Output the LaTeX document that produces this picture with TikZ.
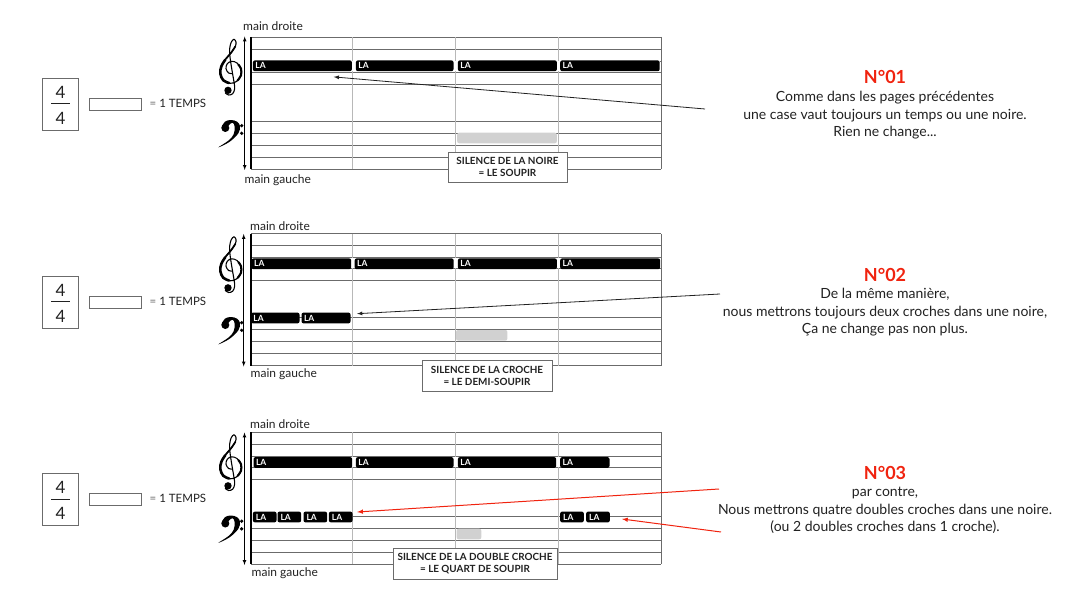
\documentclass[tikz,border=0pt]{standalone}
\usepackage{fontspec}
\setmainfont{Lato}
\definecolor{rule}{gray}{0.42}
\definecolor{barGrey}{gray}{0.72}
\definecolor{restGrey}{gray}{0.82}
\definecolor{numRed}{RGB}{240,35,15}
\definecolor{inkGrey}{gray}{0.13}
\tikzset{
	noteBar/.style={draw=none, fill=black, rounded corners=2pt, minimum height=10.8pt, inner sep=0pt, anchor=west},
	noteLabel/.style={inner sep=0pt, anchor=west, text=white, font=\bfseries\fontsize{8.5}{8.5}\selectfont},
	restBar/.style={draw=none, fill=restGrey, rounded corners=2pt, minimum height=10.6pt, inner sep=0pt},
	silenceBox/.style={draw=rule, fill=white, inner sep=0pt, minimum height=30.5pt, font=\bfseries\fontsize{9.9}{12.2}\selectfont, text=inkGrey, align=center},
	handLabel/.style={inner sep=0pt, anchor=west, text=inkGrey, font=\fontsize{12}{14}\selectfont},
	meterBox/.style={draw=rule, line width=.9pt, minimum width=36pt, minimum height=52pt, inner sep=0pt},
	meterDigit/.style={inner sep=0pt, text=inkGrey, font=\fontsize{17}{17}\selectfont},
	caseBox/.style={draw=rule, minimum width=52pt, minimum height=12pt, inner sep=0pt},
	tempsLabel/.style={inner sep=0pt, anchor=west, font=\fontsize{11.5}{14}\selectfont, text=inkGrey},
	noteText/.style={align=center, inner sep=0pt, text=inkGrey, font=\fontsize{14}{17.6}\selectfont},
	numLabel/.style={inner sep=0pt, text=numRed, font=\bfseries\fontsize{18}{20}\selectfont},
	handArrow/.style={latex-latex, line width=.7pt},
	pointer/.style={-latex, line width=.8pt, inkGrey},
	redPointer/.style={-latex, line width=1pt, numRed}
}
%Staff with its white strip behind the notes
\newcommand{\drawStaff}[2]{
	\begin{scope}[yshift=-#1pt]
		\foreach \ypos in {37,49,61,72,84,121,133,145,157,169}
			\draw[rule, line width=.8pt] (251,\ypos) -- (661,\ypos);
		\foreach \xpos in {352,455,558}
			\draw[barGrey, line width=.7pt] (\xpos,37) -- (\xpos,169);
		\fill[white] (252,61.5) rectangle (#2,71.5);
		\draw[rule, line width=.9pt] (661,37) -- (661,169);
		\draw[line width=1.2pt] (251,37) -- (251,169);
	\end{scope}
}
%Clefs drawn in units of a third of a pixel
\newcommand{\trebleClef}[2]{
	\begin{scope}[shift={(#1,#2)}, x=.3333pt, y=-.3333pt, line cap=round]
		\draw[line width=1.1pt] plot[smooth, tension=.6] coordinates {(5,20) (-7,18) (-15,5) (-11,-10) (2,-17) (18,-12) (30,5) (30,25) (17,43) (-3,49) (-23,40) (-32,20) (-29,-2) (-15,-25) (2,-45) (13,-62) (15,-75) (9,-83) (1,-75) (-4,-55) (-3,-30) (3,10) (9,45) (11,65) (5,80) (-7,84) (-17,78)};
		\draw[line width=2.6pt] plot[smooth, tension=.6] coordinates {(-6,48) (-23,40) (-32,20) (-29,-2) (-17,-22)};
		\draw[line width=2.1pt] plot[smooth, tension=.6] coordinates {(22,-7) (30,5) (30,25) (20,40)};
		\draw[line width=1.7pt] plot[smooth, tension=.6] coordinates {(-15,-25) (2,-45) (13,-62)};
		\fill (-9,70) circle (11);
	\end{scope}
}
\newcommand{\bassClef}[2]{
	\begin{scope}[shift={(#1,#2)}, x=.3333pt, y=-.3333pt]
		\fill plot[smooth cycle, tension=.6] coordinates {(-38,34) (-5,18) (22,-8) (27,-30) (18,-43) (0,-48) (-18,-43) (-28,-25) (-14,-22) (-6,-33) (5,-40) (11,-28) (8,-5) (-8,14)};
		\fill (-17,-24) circle (12);
		\fill (32,-31) circle (5.5);
		\fill (32,-8) circle (5.5);
	\end{scope}
}
\begin{document}
\begin{tikzpicture}[x=1pt, y=-1pt]
	\useasboundingbox (0,0) rectangle (1080,607);

	%Staves
	\drawStaff{0}{660}
	\drawStaff{196.8}{660}
	\drawStaff{395.4}{609}

	%Meter and case on the left of each row
	\foreach \row/\ymid in {A/104.3,B/302,C/499.5}{
		\node (meter\row) at (60.5,\ymid) [meterBox]{};
		\node (upper\row) at (60.5,\ymid-12) [meterDigit]{4};
		\node (lower\row) at (60.5,\ymid+14) [meterDigit]{4};
		\draw[line width=.8pt, inkGrey] (51.3,\ymid-.5) -- (70,\ymid-.5);
		\node (case\row) at (115,\ymid-.3) [caseBox]{};
		\node (temps\row) at (149.5,\ymid-1) [tempsLabel]{\textcolor{rule}{=} 1 TEMPS};
	}

	%Clefs
	\trebleClef{231}{67}
	\bassClef{231}{136}
	\trebleClef{231}{264.5}
	\bassClef{231}{333}
	\trebleClef{231}{462.5}
	\bassClef{231}{531.5}

	%First row
	\node (droiteA) at (243,26) [handLabel]{main droite};
	\node (gaucheA) at (244.5,180) [handLabel]{main gauche};
	\node (noteAa) at (252.7,65.8) [noteBar, minimum width=99pt]{};
	\node (noteAb) at (355.7,65.8) [noteBar, minimum width=97.6pt]{};
	\node (noteAc) at (457.7,65.8) [noteBar, minimum width=99pt]{};
	\node (noteAd) at (560,65.8) [noteBar, minimum width=99.5pt]{};
	\foreach \note in {a,b,c,d}
		\node (labelA\note) at ([xshift=2.5pt]noteA\note.west) [noteLabel]{LA};
	\node (restA) at (507,138) [restBar, minimum width=99.6pt]{};
	\node (silenceA) at (507.5,167) [silenceBox, minimum width=119pt]{SILENCE DE LA NOIRE\\= LE SOUPIR};
	\node (numA) at (885,77) [numLabel]{N°01};
	\node (textA) at (885,115.5) [noteText]{Comme dans les pages précédentes\\une case vaut toujours un temps ou une noire.\\Rien ne change...};
	\coordinate (fromA) at (705,109);
	\draw[pointer] (fromA) -- ([shift={(-18.4,5.5)}]noteAa.south east);
	\coordinate (topA) at (244.7,36.5);
	\coordinate (bottomA) at (244.7,170);
	\draw[handArrow] (topA) -- (bottomA);

	%Second row
	\node (droiteB) at (250,226) [handLabel]{main droite};
	\node (gaucheB) at (250.5,374.5) [handLabel]{main gauche};
	\node (noteBa) at (251.5,263.8) [noteBar, minimum width=99.5pt]{};
	\node (noteBb) at (354.5,263.8) [noteBar, minimum width=99pt]{};
	\node (noteBc) at (457.7,263.8) [noteBar, minimum width=99pt]{};
	\node (noteBd) at (560,263.8) [noteBar, minimum width=100pt]{};
	\foreach \note in {a,b,c,d}
		\node (labelB\note) at ([xshift=2.5pt]noteB\note.west) [noteLabel]{LA};
	\node (eighthBa) at (250.7,318) [noteBar, minimum width=48.6pt]{};
	\node (eighthBb) at (301.3,318) [noteBar, minimum width=49pt]{};
	\foreach \note in {a,b}
		\node (labelE\note) at ([xshift=2.5pt]eighthB\note.west) [noteLabel]{LA};
	\node (restB) at (481.7,335.3) [restBar, minimum width=51.4pt]{};
	\node (silenceB) at (487,375.8) [silenceBox, minimum width=129.4pt]{SILENCE DE LA CROCHE\\= LE DEMI-SOUPIR};
	\node (numB) at (885,275) [numLabel]{N°02};
	\node (textB) at (885,312.5) [noteText]{De la même manière,\\nous mettrons toujours deux croches dans une noire,\\Ça ne change pas non plus.};
	\coordinate (fromB) at (720,294);
	\draw[pointer] (fromB) -- ([shift={(6.4,-4.3)}]eighthBb.east);
	\coordinate (topB) at (243.7,234);
	\coordinate (bottomB) at (243.7,366.5);
	\draw[handArrow] (topB) -- (bottomB);

	%Third row
	\node (droiteC) at (250,424.5) [handLabel]{main droite};
	\node (gaucheC) at (251.5,573) [handLabel]{main gauche};
	\node (noteCa) at (253.3,462.5) [noteBar, minimum width=98.7pt]{};
	\node (noteCb) at (355.7,462.5) [noteBar, minimum width=97.6pt]{};
	\node (noteCc) at (457.7,462.5) [noteBar, minimum width=98.3pt]{};
	\node (noteCd) at (560,462.5) [noteBar, minimum width=49.3pt]{};
	\foreach \note in {a,b,c,d}
		\node (labelC\note) at ([xshift=2.5pt]noteC\note.west) [noteLabel]{LA};
	\fill[white] (251.5,512) rectangle (352,522);
	\fill[white] (560,512) rectangle (610,522);
	\foreach \xpos/\note in {252.7/a,277.3/b,303.3/c,328.7/d,560/e,586/f}{
		\node (sixteenthC\note) at (\xpos,517) [noteBar, minimum width=23.6pt]{};
		\node (labelS\note) at ([xshift=3pt]sixteenthC\note.west) [noteLabel]{LA};
	}
	\node (restC) at (469,534) [restBar, minimum width=24.6pt]{};
	\node (silenceC) at (475,563.7) [silenceBox, minimum width=163.4pt]{SILENCE DE LA DOUBLE CROCHE\\= LE QUART DE SOUPIR};
	\node (numC) at (885,473) [numLabel]{N°03};
	\node (textC) at (885,510.5) [noteText]{par contre,\\Nous mettrons quatre doubles croches dans une noire.\\(ou 2 doubles croches dans 1 croche).};
	\coordinate (fromCa) at (719,489);
	\coordinate (fromCb) at (721,532);
	\draw[redPointer] (fromCa) -- ([shift={(4.4,-5)}]sixteenthCd.east);
	\draw[redPointer] (fromCb) -- ([shift={(12,2)}]sixteenthCf.east);
	\coordinate (topC) at (244.5,432.5);
	\coordinate (bottomC) at (244.5,565);
	\draw[handArrow] (topC) -- (bottomC);
\end{tikzpicture}
\end{document}
